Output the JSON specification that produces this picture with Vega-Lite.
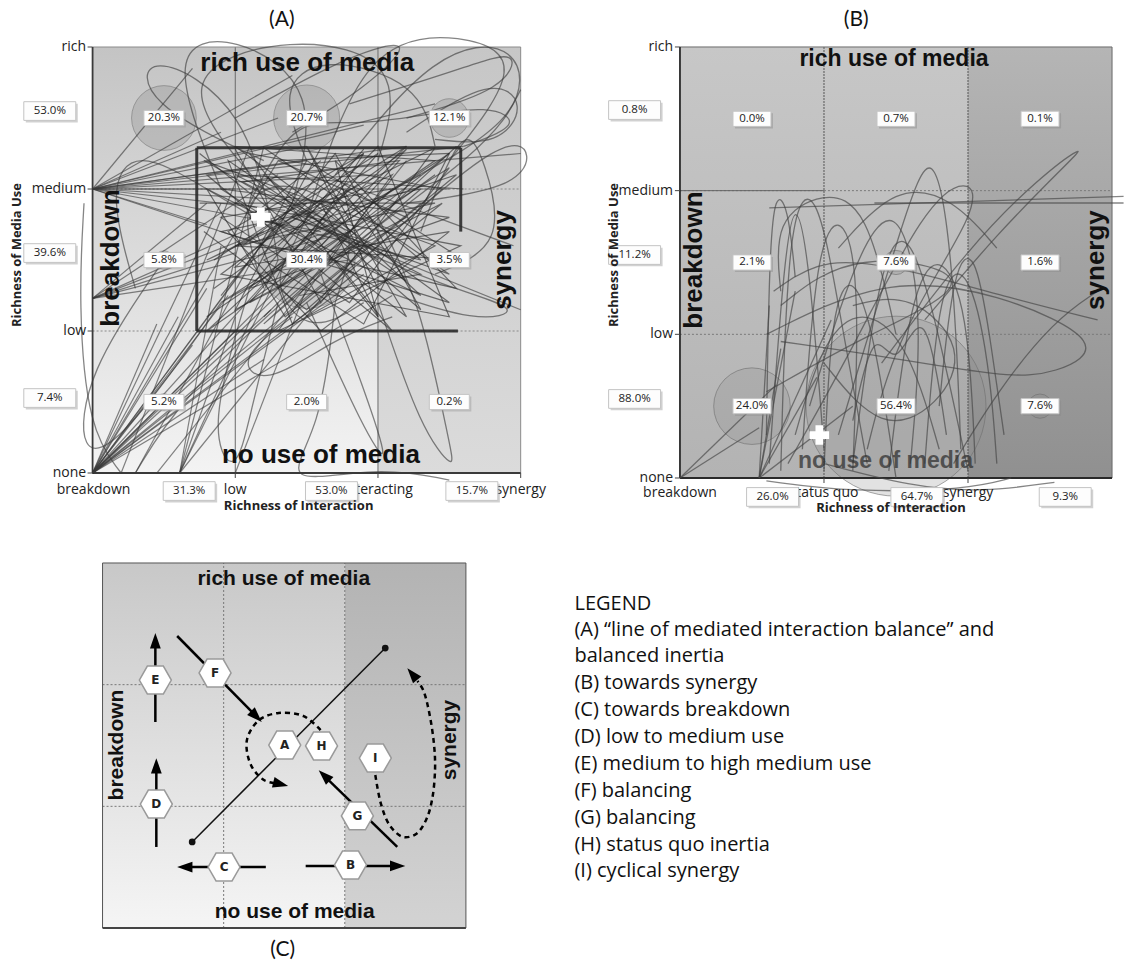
{
"$schema": "https://vega.github.io/schema/vega-lite/v6.json",
"width": 1125, "height": 963, "padding": 0,
"autosize": {"type": "fit", "contains": "padding"},
"background": "white",
"config": {"view": {"stroke": null}, "font": "Open Sans"},
"datasets": {
"pA": [
{"t":"53.0%","x":-0.3,"y":2.549,"k":"s"},{"t":"39.6%","x":-0.3,"y":1.549,"k":"s"},{"t":"7.4%","x":-0.3,"y":0.528,"k":"s"},
{"t":"31.3%","x":0.677,"y":-0.127,"k":"s"},{"t":"53.0%","x":1.674,"y":-0.127,"k":"s"},{"t":"15.7%","x":2.658,"y":-0.127,"k":"s"},
{"t":"20.3%","v":20.3,"x":0.5,"y":2.5,"k":"c"},{"t":"20.7%","v":20.7,"x":1.5,"y":2.5,"k":"c"},{"t":"12.1%","v":12.1,"x":2.5,"y":2.5,"k":"c"},
{"t":"5.8%","v":5.8,"x":0.5,"y":1.5,"k":"c"},{"t":"30.4%","v":30.4,"x":1.5,"y":1.5,"k":"c"},{"t":"3.5%","v":3.5,"x":2.5,"y":1.5,"k":"c"},
{"t":"5.2%","v":5.2,"x":0.5,"y":0.5,"k":"c"},{"t":"2.0%","v":2.0,"x":1.5,"y":0.5,"k":"c"},{"t":"0.2%","v":0.2,"x":2.5,"y":0.5,"k":"c"}
],
"pB": [
{"t":"0.8%","x":-0.315,"y":2.561,"k":"s"},{"t":"11.2%","x":-0.315,"y":1.552,"k":"s"},{"t":"88.0%","x":-0.315,"y":0.55,"k":"s"},
{"t":"26.0%","x":0.643,"y":-0.132,"k":"s"},{"t":"64.7%","x":1.645,"y":-0.132,"k":"s"},{"t":"9.3%","x":2.675,"y":-0.132,"k":"s"},
{"t":"0.0%","v":0.0,"x":0.5,"y":2.5,"k":"c"},{"t":"0.7%","v":0.7,"x":1.5,"y":2.5,"k":"c"},{"t":"0.1%","v":0.1,"x":2.5,"y":2.5,"k":"c"},
{"t":"2.1%","v":2.1,"x":0.5,"y":1.5,"k":"c"},{"t":"7.6%","v":7.6,"x":1.5,"y":1.5,"k":"c"},{"t":"1.6%","v":1.6,"x":2.5,"y":1.5,"k":"c"},
{"t":"24.0%","v":24.0,"x":0.5,"y":0.5,"k":"c"},{"t":"56.4%","v":56.4,"x":1.5,"y":0.5,"k":"c"},{"t":"7.6%","v":7.6,"x":2.5,"y":0.5,"k":"c"}
],
"fanA": [
{"x":0,"y":0,"x2":1.0,"y2":1.0},{"x":0,"y":0,"x2":1.1,"y2":1.5},{"x":0,"y":0,"x2":0.8,"y2":1.3},{"x":0,"y":0,"x2":1.4,"y2":1.9},
{"x":0,"y":0,"x2":1.6,"y2":1.2},{"x":0,"y":0,"x2":2.0,"y2":1.6},{"x":0,"y":0,"x2":0.6,"y2":1.1},{"x":0,"y":0,"x2":1.3,"y2":2.2},
{"x":0,"y":0,"x2":1.8,"y2":2.0},{"x":0,"y":0,"x2":2.3,"y2":1.9},{"x":0,"y":0,"x2":1.2,"y2":0.8},{"x":0,"y":0,"x2":0.9,"y2":1.9},
{"x":0,"y":0,"x2":1.5,"y2":1.45},{"x":0,"y":0,"x2":0.45,"y2":1.05},{"x":0,"y":0,"x2":2.1,"y2":1.25},{"x":0,"y":0,"x2":0.7,"y2":0.9},
{"x":0,"y":0,"x2":1.7,"y2":1.7},{"x":0,"y":0,"x2":1.25,"y2":1.15},{"x":0,"y":0,"x2":0.95,"y2":1.25},{"x":0,"y":0,"x2":1.9,"y2":1.4},
{"x":0.61,"y":0,"x2":1.3,"y2":1.5},{"x":0.61,"y":0,"x2":1.6,"y2":2.0},{"x":0.61,"y":0,"x2":1.0,"y2":1.1},{"x":0.61,"y":0,"x2":1.9,"y2":1.6},
{"x":0.61,"y":0,"x2":1.2,"y2":2.3},{"x":0.61,"y":0,"x2":0.9,"y2":1.6},
{"x":0,"y":2,"x2":1.3,"y2":2.5},{"x":0,"y":2,"x2":1.5,"y2":2.3},{"x":0,"y":2,"x2":1.0,"y2":2.0},{"x":0,"y":2,"x2":1.8,"y2":1.9},
{"x":0,"y":2,"x2":2.2,"y2":2.3},{"x":0,"y":2,"x2":1.2,"y2":1.6},{"x":0,"y":2,"x2":2.6,"y2":2.3},{"x":0,"y":2,"x2":1.6,"y2":1.7},
{"x":0,"y":2,"x2":0.9,"y2":2.4},{"x":0,"y":2,"x2":2.0,"y2":2.1},{"x":0,"y":2,"x2":3.0,"y2":2.25},{"x":0,"y":2,"x2":1.4,"y2":2.8},
{"x":0,"y":2,"x2":0.7,"y2":2.85},{"x":0,"y":2,"x2":2.4,"y2":2.6},{"x":0,"y":2,"x2":1.1,"y2":2.15},{"x":0,"y":2,"x2":0.8,"y2":1.75},
{"x":0,"y":2,"x2":2.5,"y2":2.0},{"x":0,"y":2,"x2":1.9,"y2":2.45},{"x":0,"y":2,"x2":1.35,"y2":1.85},
{"x":0,"y":1.23,"x2":1.2,"y2":1.7},{"x":0,"y":1.23,"x2":1.5,"y2":1.9},{"x":0,"y":1.23,"x2":1.0,"y2":1.55},{"x":0,"y":1.23,"x2":1.8,"y2":1.5},
{"x":0,"y":1.23,"x2":1.3,"y2":2.1},{"x":0,"y":1.23,"x2":0.8,"y2":1.9},{"x":0,"y":1.23,"x2":2.0,"y2":1.75},
{"x":0.3,"y":0,"x2":1.5,"y2":2.2},{"x":0.2,"y":0,"x2":1.1,"y2":2.3},{"x":1.0,"y":0,"x2":1.5,"y2":1.3},{"x":0.45,"y":0,"x2":2.2,"y2":2.2},
{"x":3.0,"y":1.15,"x2":1.4,"y2":1.8},{"x":2.95,"y":1.6,"x2":1.6,"y2":2.1}
],
"zzA": [
{"p":"z1","x":[0.8,2.4,1.0,2.5,0.9,2.3,1.2,2.55],"y":[1.1,2.2,2.3,1.2,1.7,2.0,1.05,2.3]},
{"p":"z2","x":[0.75,2.2,1.5,2.0,0.9,2.5,1.1,1.9],"y":[2.25,1.1,2.3,1.3,2.0,1.8,1.3,2.28]},
{"p":"z3","x":[1.0,1.6,2.4,0.8,2.1,1.3,2.58,1.0],"y":[2.28,1.2,2.29,1.5,2.1,1.0,1.6,1.9]},
{"p":"z4","x":[0.9,1.7,2.3,1.2,2.0,0.78,2.4,1.5],"y":[1.25,2.25,1.15,2.1,1.5,2.2,1.6,1.1]},
{"p":"z5","x":[1.2,2.5,1.4,2.2,0.8,1.8,1.0,2.6],"y":[2.29,1.4,1.8,2.3,1.0,1.7,2.1,2.0]},
{"p":"z6","x":[1.3,2.0,2.5,0.9,1.7,2.3,1.1,1.6],"y":[1.6,2.3,1.1,1.4,2.0,1.5,1.8,2.2]},
{"p":"z7","x":[0.75,2.4,1.0,2.6,1.5,0.8,2.1,1.7],"y":[1.9,1.9,1.6,1.5,2.2,2.1,1.0,1.5]},
{"p":"z8","x":[1.6,1.0,2.2,1.3,2.5,1.9,1.2,2.3],"y":[2.29,1.15,1.8,2.2,2.25,1.05,1.5,2.1]},
{"p":"z9","x":[0.85,2.0,1.1,2.45,1.4,0.95,2.2,1.75],"y":[1.5,2.25,1.2,1.9,1.05,2.2,1.35,2.0]},
{"p":"z10","x":[1.9,1.05,2.55,1.35,0.8,2.3,1.6,2.0],"y":[2.25,1.6,2.1,1.1,2.0,1.25,1.9,1.1]},
{"p":"z11","x":[1.2,2.1,0.9,1.8,2.5,1.4,2.2,0.85],"y":[1.1,2.0,1.8,1.2,2.15,1.45,2.28,1.3]},
{"p":"z12","x":[2.4,1.3,1.9,0.95,1.6,2.5,1.0,1.5],"y":[2.1,1.3,2.25,1.7,1.0,1.7,1.45,1.9]},
{"p":"z13","x":[0.78,1.5,2.45,1.1,2.0,1.7,2.55,1.25],"y":[1.7,1.15,2.0,2.25,1.1,2.2,1.3,1.6]},
{"p":"z14","x":[1.45,2.3,1.05,2.15,1.6,0.9,2.5,1.8],"y":[1.25,1.4,2.05,2.2,1.6,1.2,2.25,1.7]}
],
"lpA": [
{"p":"l1","x":[1.2,0.5,1.4,2.2,2.0],"y":[2.0,2.8,3.1,2.9,2.2]},
{"p":"l2","x":[1.5,1.9,2.6,3.05,2.5],"y":[1.8,3.05,3.1,2.9,2.2]},
{"p":"l3","x":[2.0,2.9,3.1,2.95,2.2],"y":[1.6,2.4,2.25,2.0,1.9]},
{"p":"l4","x":[1.7,2.4,3.0,3.05,2.1],"y":[2.1,3.0,3.05,2.5,2.0]},
{"p":"l5","x":[1.3,1.1,0.35,0.35,1.2],"y":[1.5,2.6,3.0,2.6,2.2]},
{"p":"l6","x":[0.9,0.5,1.0,1.6,1.4],"y":[2.0,3.0,3.1,2.7,1.9]},
{"p":"l7","x":[1.8,2.5,3.05,2.7,2.0],"y":[1.6,1.3,1.15,1.05,1.3]},
{"p":"l8","x":[2.0,2.3,2.5,2.55,2.3,2.0],"y":[1.8,1.2,0.2,0.0,0.3,1.2]},
{"p":"l9","x":[1.6,1.9,2.1,1.9,1.5],"y":[1.4,0.6,0.0,0.3,1.2]},
{"p":"l10","x":[1.3,1.1,1.0,0.8,1.1],"y":[1.2,0.4,-0.05,0.3,1.3]},
{"p":"l11","x":[1.7,1.6,1.3,2.0,2.5],"y":[1.2,0.3,-0.1,0.05,-0.05]},
{"p":"l12","x":[0.5,-0.05,-0.1,0.2,0.9],"y":[1.5,0.7,0.1,0.2,1.2]},
{"p":"l13","x":[2.2,2.8,3.05,2.85,2.4],"y":[2.4,2.8,2.6,2.3,2.35]},
{"p":"l14","x":[1.8,2.6,3.0,2.9,2.2],"y":[2.6,2.85,3.0,2.7,2.5]},
{"p":"l15","x":[1.0,1.8,2.3,1.9,1.4],"y":[2.5,2.95,3.08,2.7,2.4]},
{"p":"l16","x":[2.3,2.6,2.75,2.9,2.4],"y":[1.7,2.5,2.2,1.6,1.4]},
{"p":"l17","x":[1.4,1.0,1.2,1.7,2.1],"y":[1.1,0.8,0.6,0.95,1.1]},
{"p":"l18","x":[0.3,0.1,0.3,0.8,1.3],"y":[1.3,2.0,2.3,2.0,1.7]},
{"p":"l19","x":[1.1,1.4,1.8,2.2,2.8,3.02,2.6],"y":[1.9,2.5,2.45,2.5,2.6,2.45,2.3]},
{"p":"l20","x":[1.5,1.3,1.6,2.3,2.4],"y":[2.2,2.7,2.95,2.75,2.3]},
{"p":"l21","x":[0.3,0.6,1.5,2.8,3.0],"y":[0.0,0.5,1.4,2.3,2.7]},
{"p":"l22","x":[-0.06,-0.1,-0.03,0.2],"y":[1.9,1.2,0.3,0.0]},
{"p":"l23","x":[1.2,1.0,1.35,1.9,1.7],"y":[1.3,1.9,2.1,1.8,1.2]},
{"p":"l24","x":[1.9,1.5,1.2,1.6,2.2],"y":[1.2,0.95,1.4,1.8,1.5]}
],
"boxA": [
{"x":0.73,"y":2.29,"x2":2.58,"y2":2.29},{"x":0.73,"y":1.0,"x2":0.73,"y2":2.29},{"x":0.73,"y":1.0,"x2":2.56,"y2":1.0},{"x":2.58,"y":1.7,"x2":2.58,"y2":2.29}
],
"fanB": [
{"x":0,"y":0,"x2":0.67,"y2":0.65},{"x":0,"y":0,"x2":0.55,"y2":0.35},
{"x":0.55,"y":0,"x2":0.7,"y2":0.9},{"x":0.55,"y":0,"x2":0.95,"y2":0.7},{"x":0.55,"y":0,"x2":1.2,"y2":0.5},
{"x":0.55,"y":0,"x2":0.8,"y2":1.3},{"x":0.55,"y":0,"x2":0.62,"y2":1.2},{"x":0.55,"y":0,"x2":1.05,"y2":1.1},
{"x":1.35,"y":1.914,"x2":3.08,"y2":1.914},{"x":0.62,"y":1.88,"x2":3.08,"y2":1.96}
],
"lpB": [
{"p":"b1","x":[0.62,0.72,0.8,0.9,1.0],"y":[0.1,1.5,2.0,1.5,0.2]},
{"p":"b2","x":[0.7,0.75,0.95,1.1,1.3],"y":[0.05,1.9,2.05,1.2,0.1]},
{"p":"b3","x":[1.1,1.55,1.76,1.9,1.95],"y":[0.3,1.8,2.4,1.5,0.2]},
{"p":"b4","x":[1.2,1.4,1.6,1.8,2.0],"y":[0.1,1.6,1.75,1.0,0.05]},
{"p":"b5","x":[0.9,1.2,1.5,1.7,1.6],"y":[0.5,1.5,2.0,1.2,0.1]},
{"p":"b7","x":[0.6,1.4,2.2,3.0,2.6,2.26,1.4,0.7],"y":[1.0,1.4,1.3,0.93,0.72,0.7,0.85,0.95]},
{"p":"b8","x":[1.4,2.0,2.5,2.83,2.7,2.2,1.7],"y":[0.8,1.6,2.1,2.33,2.2,1.7,1.1]},
{"p":"b9","x":[1.45,1.6,1.8,2.0,2.05],"y":[0.05,1.3,1.6,1.2,0.1]},
{"p":"b10","x":[1.0,1.05,1.2,1.35,1.5],"y":[0.05,1.2,1.45,1.0,0.0]},
{"p":"b11","x":[0.85,0.95,1.15,1.25,1.2],"y":[0.2,1.7,1.85,1.3,0.05]},
{"p":"b12","x":[1.7,1.8,2.0,2.15,2.2],"y":[0.1,1.4,1.5,0.8,0.1]},
{"p":"b13","x":[0.6,1.3,2.2,1.2,0.7],"y":[0.6,1.0,1.4,1.6,1.2]},
{"p":"b14","x":[1.5,1.3,1.0,0.65,0.7],"y":[1.0,1.9,2.0,1.8,1.3]},
{"p":"b17","x":[0.6,0.62,0.66,0.75,0.8],"y":[0.3,1.55,2.0,1.9,1.4]},
{"p":"b18","x":[0.6,1.2,2.0,2.3],"y":[-0.02,-0.1,-0.08,0.0]},
{"p":"b18b","x":[1.0,1.6,2.1,2.6],"y":[0.1,-0.06,-0.1,-0.03]},
{"p":"b19","x":[1.8,1.9,2.05,2.15,2.25],"y":[0.5,1.5,1.6,1.0,0.3]},
{"p":"b20","x":[1.1,1.5,1.9,2.2],"y":[1.6,2.05,1.95,1.6]},
{"p":"b21","x":[1.0,1.4,1.8,2.0,1.6,1.2],"y":[0.8,0.3,0.5,0.9,1.3,1.2]},
{"p":"b22","x":[0.75,1.2,1.7,2.0,2.1,1.5,1.3],"y":[0.1,0.9,1.9,2.1,1.9,1.0,0.2]},
{"p":"b23","x":[0.65,1.0,1.6,2.3,2.9],"y":[1.3,1.55,1.45,1.25,1.1]},
{"p":"b24","x":[1.9,2.2,2.6,2.9],"y":[0.1,0.6,1.1,1.3]},
{"p":"b25","x":[0.8,1.0,1.3,1.6,1.8],"y":[0.3,1.0,1.2,0.9,0.2]},
{"p":"b26","x":[1.2,1.35,1.5,1.7,1.85],"y":[0.4,1.1,0.7,1.3,0.3]}
],
"lg": [
{"t":"LEGEND","x":3.896,"y":2.663},
{"t":"(A) “line of mediated interaction balance” and","x":3.896,"y":2.449},
{"t":"balanced inertia","x":3.896,"y":2.236},
{"t":"(B) towards synergy","x":3.896,"y":2.014},
{"t":"(C) towards breakdown","x":3.896,"y":1.792},
{"t":"(D) low to medium use","x":3.896,"y":1.57},
{"t":"(E) medium to high medium use","x":3.896,"y":1.348},
{"t":"(F) balancing","x":3.896,"y":1.126},
{"t":"(G) balancing","x":3.896,"y":0.904},
{"t":"(H) status quo inertia","x":3.896,"y":0.682},
{"t":"(I) cyclical synergy","x":3.896,"y":0.468}
]
},
"layer": [
{
"encoding": {
"x": {"field":"x","type":"quantitative","scale":{"domain":[-0.6488,7.2],"nice":false,"zero":false},"axis":null},
"y": {"field":"y","type":"quantitative","scale":{"domain":[-3.4507,3.331],"nice":false,"zero":false},"axis":null}
},
"layer": [
{"data":{"values":[{"x":0,"x2":2,"y":0,"y2":3}]},"mark":{"type":"rect","fill":{"gradient":"linear","x1":0,"y1":0,"x2":0,"y2":1,"stops":[{"offset":0,"color":"#c4c4c4"},{"offset":1,"color":"#f3f3f3"}]}},"encoding":{"x2":{"field":"x2"},"y2":{"field":"y2"}}},
{"data":{"values":[{"x":2,"x2":3,"y":0,"y2":3}]},"mark":{"type":"rect","fill":{"gradient":"linear","x1":0,"y1":0,"x2":0,"y2":1,"stops":[{"offset":0,"color":"#c6c6c6"},{"offset":1,"color":"#dbdbdb"}]}},"encoding":{"x2":{"field":"x2"},"y2":{"field":"y2"}}},
{"data":{"name":"pA"},"transform":[{"filter":"datum.k=='c'"}],"mark":{"type":"point","shape":"circle","filled":true,"fill":"#8a8a8a","fillOpacity":0.3,"stroke":"#7a7a7a","strokeOpacity":0.6,"strokeWidth":1,"opacity":1},"encoding":{"size":{"field":"v","type":"quantitative","scale":{"type":"pow","exponent":2,"domain":[0,60],"range":[0,36644]},"legend":null}}},
{"data":{"values":[{"x":1,"y":0,"x2":1,"y2":3},{"x":2,"y":0,"x2":2,"y2":3}]},"mark":{"type":"rule","stroke":"#6a6a6a","strokeWidth":1},"encoding":{"x2":{"field":"x2"},"y2":{"field":"y2"}}},
{"data":{"values":[{"x":0,"y":1,"x2":3,"y2":1},{"x":0,"y":2,"x2":3,"y2":2}]},"mark":{"type":"rule","stroke":"#8a8a8a","strokeWidth":1,"strokeDash":[2,2]},"encoding":{"x2":{"field":"x2"},"y2":{"field":"y2"}}},
{"data":{"values":[{"x":3,"y":0,"x2":3,"y2":3},{"x":0,"y":3,"x2":3,"y2":3}]},"mark":{"type":"rule","stroke":"#8a8a8a","strokeWidth":1},"encoding":{"x2":{"field":"x2"},"y2":{"field":"y2"}}},
{"data":{"values":[{"x":0,"y":0,"x2":0,"y2":3},{"x":0,"y":0,"x2":3,"y2":0}]},"mark":{"type":"rule","stroke":"#3a3a3a","strokeWidth":1.8},"encoding":{"x2":{"field":"x2"},"y2":{"field":"y2"}}},
{"data":{"values":[{"x":-0.035,"y":0,"x2":0,"y2":0},{"x":-0.035,"y":1,"x2":0,"y2":1},{"x":-0.035,"y":2,"x2":0,"y2":2},{"x":-0.035,"y":3,"x2":0,"y2":3},{"x":1,"y":-0.035,"x2":1,"y2":0},{"x":2,"y":-0.035,"x2":2,"y2":0},{"x":3,"y":-0.035,"x2":3,"y2":0}]},"mark":{"type":"rule","stroke":"#444","strokeWidth":1},"encoding":{"x2":{"field":"x2"},"y2":{"field":"y2"}}},
{"data":{"name":"fanA"},"mark":{"type":"rule","stroke":"#3a3a3a","strokeWidth":1.2,"opacity":0.62},"encoding":{"x2":{"field":"x2"},"y2":{"field":"y2"}}},
{"data":{"name":"zzA"},"transform":[{"flatten":["x","y"]}],"mark":{"type":"line","stroke":"#262626","strokeWidth":1.2,"opacity":0.62},"encoding":{"detail":{"field":"p"},"order":{"value":null}}},
{"data":{"name":"lpA"},"transform":[{"flatten":["x","y"]}],"mark":{"type":"line","interpolate":"basis","stroke":"#3a3a3a","strokeWidth":1.3,"opacity":0.62},"encoding":{"detail":{"field":"p"},"order":{"value":null}}},
{"data":{"name":"boxA"},"mark":{"type":"rule","stroke":"#2a2a2a","strokeWidth":3,"opacity":0.9},"encoding":{"x2":{"field":"x2"},"y2":{"field":"y2"}}},
{"data":{"values":[{"t":"rich use of media","x":1.504,"y":2.887},{"t":"no use of media","x":1.6,"y":0.127}]},"mark":{"type":"text","font":"Liberation Sans","fontWeight":"bold","fontSize":26,"align":"center","baseline":"middle","color":"#111"},"encoding":{"text":{"field":"t"}}},
{"data":{"values":[{"t":"breakdown","x":0.126,"y":1.514},{"t":"synergy","x":2.875,"y":1.5}]},"mark":{"type":"text","font":"Liberation Sans","fontWeight":"bold","fontSize":26,"align":"center","baseline":"middle","angle":270,"color":"#111"},"encoding":{"text":{"field":"t"}}},
{"data":{"values":[{"t":"rich","x":-0.045,"y":3},{"t":"medium","x":-0.045,"y":2},{"t":"low","x":-0.045,"y":1},{"t":"none","x":-0.045,"y":0}]},"mark":{"type":"text","fontSize":14,"align":"right","baseline":"middle","color":"#222"},"encoding":{"text":{"field":"t"}}},
{"data":{"values":[{"t":"breakdown","x":0.007,"y":-0.12},{"t":"low","x":1,"y":-0.12},{"t":"interacting","x":2,"y":-0.12},{"t":"synergy","x":3,"y":-0.12}]},"mark":{"type":"text","fontSize":14,"align":"center","baseline":"middle","color":"#222"},"encoding":{"text":{"field":"t"}}},
{"data":{"name":"pA"},"transform":[{"filter":"datum.k=='s'"}],"mark":{"type":"point","shape":"M -1 -0.36 L 1 -0.36 L 1 0.36 L -1 0.36 Z","filled":true,"fill":"#9a9a9a","opacity":0.45,"size":2700,"xOffset":2,"yOffset":2}},
{"data":{"name":"pA"},"transform":[{"filter":"datum.k=='s'"}],"mark":{"type":"point","shape":"M -1 -0.36 L 1 -0.36 L 1 0.36 L -1 0.36 Z","filled":true,"fill":"#fdfdfd","stroke":"#c4c4c4","strokeWidth":1,"opacity":1,"size":2700}},
{"data":{"name":"pA"},"transform":[{"filter":"datum.k=='c'"}],"mark":{"type":"point","shape":"M -1 -0.38 L 1 -0.38 L 1 0.38 L -1 0.38 Z","filled":true,"fill":"#9a9a9a","opacity":0.45,"size":1600,"xOffset":2,"yOffset":2}},
{"data":{"name":"pA"},"transform":[{"filter":"datum.k=='c'"}],"mark":{"type":"point","shape":"M -1 -0.38 L 1 -0.38 L 1 0.38 L -1 0.38 Z","filled":true,"fill":"#fdfdfd","stroke":"#c4c4c4","strokeWidth":1,"opacity":1,"size":1600}},
{"data":{"name":"pA"},"mark":{"type":"text","fontSize":11.5,"align":"center","baseline":"middle","color":"#222"},"encoding":{"text":{"field":"t"}}},
{"data":{"values":[{"x":1.179,"y":1.803}]},"mark":{"type":"point","shape":"cross","filled":true,"fill":"white","opacity":1,"size":380}},
{"data":{"values":[{"t":"(A)","x":1.326,"y":3.19}]},"mark":{"type":"text","font":"Lato","fontSize":21,"align":"center","baseline":"middle","color":"#111"},"encoding":{"text":{"field":"t"}}},
{"data":{"values":[{"t":"Richness of Media Use","x":-0.53,"y":1.535}]},"mark":{"type":"text","fontSize":13,"fontWeight":"bold","align":"center","baseline":"middle","angle":270,"color":"#222"},"encoding":{"text":{"field":"t"}}},
{"data":{"values":[{"t":"Richness of Interaction","x":1.444,"y":-0.235}]},"mark":{"type":"text","fontSize":13,"fontWeight":"bold","align":"center","baseline":"middle","color":"#222"},"encoding":{"text":{"field":"t"}}}
]
},
{
"encoding": {
"x": {"field":"x","type":"quantitative","scale":{"domain":[-4.7212,3.0553],"nice":false,"zero":false},"axis":null},
"y": {"field":"y","type":"quantitative","scale":{"domain":[-3.3759,3.327],"nice":false,"zero":false},"axis":null}
},
"layer": [
{"data":{"values":[{"x":0,"x2":2,"y":0,"y2":3}]},"mark":{"type":"rect","fill":{"gradient":"linear","x1":0,"y1":0,"x2":0,"y2":1,"stops":[{"offset":0,"color":"#c7c7c7"},{"offset":1,"color":"#b3b3b3"}]}},"encoding":{"x2":{"field":"x2"},"y2":{"field":"y2"}}},
{"data":{"values":[{"x":2,"x2":3,"y":0,"y2":3}]},"mark":{"type":"rect","fill":{"gradient":"linear","x1":0,"y1":0,"x2":0,"y2":1,"stops":[{"offset":0,"color":"#b5b5b5"},{"offset":1,"color":"#909090"}]}},"encoding":{"x2":{"field":"x2"},"y2":{"field":"y2"}}},
{"data":{"name":"pB"},"transform":[{"filter":"datum.k=='c'"}],"mark":{"type":"point","shape":"circle","filled":true,"fill":"#8a8a8a","fillOpacity":0.25,"stroke":"#6e6e6e","strokeOpacity":0.6,"strokeWidth":1,"opacity":1},"encoding":{"size":{"field":"v","type":"quantitative","scale":{"type":"pow","exponent":2,"domain":[0,60],"range":[0,36644]},"legend":null}}},
{"data":{"values":[{"x":1,"y":0,"x2":1,"y2":3},{"x":2,"y":0,"x2":2,"y2":3}]},"mark":{"type":"rule","stroke":"#555","strokeWidth":1,"strokeDash":[2,1]},"encoding":{"x2":{"field":"x2"},"y2":{"field":"y2"}}},
{"data":{"values":[{"x":0,"y":1,"x2":3,"y2":1},{"x":0,"y":2,"x2":3,"y2":2}]},"mark":{"type":"rule","stroke":"#7a7a7a","strokeWidth":1,"strokeDash":[2,2]},"encoding":{"x2":{"field":"x2"},"y2":{"field":"y2"}}},
{"data":{"values":[{"x":0,"y":2,"x2":1,"y2":2}]},"mark":{"type":"rule","stroke":"#666","strokeWidth":1},"encoding":{"x2":{"field":"x2"},"y2":{"field":"y2"}}},
{"data":{"values":[{"x":3,"y":0,"x2":3,"y2":3},{"x":0,"y":3,"x2":3,"y2":3}]},"mark":{"type":"rule","stroke":"#6a6a6a","strokeWidth":1},"encoding":{"x2":{"field":"x2"},"y2":{"field":"y2"}}},
{"data":{"values":[{"x":0,"y":0,"x2":0,"y2":3},{"x":0,"y":0,"x2":3,"y2":0}]},"mark":{"type":"rule","stroke":"#2a2a2a","strokeWidth":1.8},"encoding":{"x2":{"field":"x2"},"y2":{"field":"y2"}}},
{"data":{"values":[{"x":-0.035,"y":0,"x2":0,"y2":0},{"x":-0.035,"y":1,"x2":0,"y2":1},{"x":-0.035,"y":2,"x2":0,"y2":2},{"x":-0.035,"y":3,"x2":0,"y2":3},{"x":1,"y":-0.035,"x2":1,"y2":0},{"x":2,"y":-0.035,"x2":2,"y2":0}]},"mark":{"type":"rule","stroke":"#444","strokeWidth":1},"encoding":{"x2":{"field":"x2"},"y2":{"field":"y2"}}},
{"data":{"name":"fanB"},"mark":{"type":"rule","stroke":"#444","strokeWidth":1.3,"opacity":0.65},"encoding":{"x2":{"field":"x2"},"y2":{"field":"y2"}}},
{"data":{"name":"lpB"},"transform":[{"flatten":["x","y"]}],"mark":{"type":"line","interpolate":"basis","stroke":"#444","strokeWidth":1.3,"opacity":0.65},"encoding":{"detail":{"field":"p"},"order":{"value":null}}},
{"data":{"values":[{"t":"rich use of media","x":1.486,"y":2.916}]},"mark":{"type":"text","font":"Liberation Sans","fontWeight":"bold","fontSize":23,"align":"center","baseline":"middle","color":"#111"},"encoding":{"text":{"field":"t"}}},
{"data":{"values":[{"t":"no use of media","x":1.427,"y":0.118}]},"mark":{"type":"text","font":"Liberation Sans","fontWeight":"bold","fontSize":23,"align":"center","baseline":"middle","color":"#333","opacity":0.75},"encoding":{"text":{"field":"t"}}},
{"data":{"values":[{"t":"breakdown","x":0.1,"y":1.517},{"t":"synergy","x":2.89,"y":1.517}]},"mark":{"type":"text","font":"Liberation Sans","fontWeight":"bold","fontSize":26,"align":"center","baseline":"middle","angle":270,"color":"#111"},"encoding":{"text":{"field":"t"}}},
{"data":{"values":[{"t":"rich","x":-0.048,"y":3},{"t":"medium","x":-0.048,"y":2},{"t":"low","x":-0.048,"y":1},{"t":"none","x":-0.048,"y":0}]},"mark":{"type":"text","fontSize":14,"align":"right","baseline":"middle","color":"#222"},"encoding":{"text":{"field":"t"}}},
{"data":{"values":[{"t":"breakdown","x":0,"y":-0.104},{"t":"status quo","x":1,"y":-0.104},{"t":"synergy","x":2,"y":-0.104}]},"mark":{"type":"text","fontSize":14,"align":"center","baseline":"middle","color":"#222"},"encoding":{"text":{"field":"t"}}},
{"data":{"name":"pB"},"transform":[{"filter":"datum.k=='s'"}],"mark":{"type":"point","shape":"M -1 -0.36 L 1 -0.36 L 1 0.36 L -1 0.36 Z","filled":true,"fill":"#9a9a9a","opacity":0.45,"size":2700,"xOffset":2,"yOffset":2}},
{"data":{"name":"pB"},"transform":[{"filter":"datum.k=='s'"}],"mark":{"type":"point","shape":"M -1 -0.36 L 1 -0.36 L 1 0.36 L -1 0.36 Z","filled":true,"fill":"#fdfdfd","stroke":"#c4c4c4","strokeWidth":1,"opacity":1,"size":2700}},
{"data":{"name":"pB"},"transform":[{"filter":"datum.k=='c'"}],"mark":{"type":"point","shape":"M -1 -0.4 L 1 -0.4 L 1 0.4 L -1 0.4 Z","filled":true,"fill":"#8a8a8a","opacity":0.45,"size":1444,"xOffset":2,"yOffset":2}},
{"data":{"name":"pB"},"transform":[{"filter":"datum.k=='c'"}],"mark":{"type":"point","shape":"M -1 -0.4 L 1 -0.4 L 1 0.4 L -1 0.4 Z","filled":true,"fill":"#fdfdfd","stroke":"#c4c4c4","strokeWidth":1,"opacity":1,"size":1444}},
{"data":{"name":"pB"},"mark":{"type":"text","fontSize":11.5,"align":"center","baseline":"middle","color":"#222"},"encoding":{"text":{"field":"t"}}},
{"data":{"values":[{"x":0.968,"y":0.299}]},"mark":{"type":"point","shape":"cross","filled":true,"fill":"white","opacity":1,"size":380}},
{"data":{"values":[{"t":"(B)","x":1.2235,"y":3.188}]},"mark":{"type":"text","font":"Lato","fontSize":21,"align":"center","baseline":"middle","color":"#111"},"encoding":{"text":{"field":"t"}}},
{"data":{"values":[{"t":"Richness of Media Use","x":-0.456,"y":1.552}]},"mark":{"type":"text","fontSize":13,"fontWeight":"bold","align":"center","baseline":"middle","angle":270,"color":"#222"},"encoding":{"text":{"field":"t"}}},
{"data":{"values":[{"t":"Richness of Interaction","x":1.465,"y":-0.21}]},"mark":{"type":"text","fontSize":13,"fontWeight":"bold","align":"center","baseline":"middle","color":"#222"},"encoding":{"text":{"field":"t"}}}
]
},
{
"encoding": {
"x": {"field":"x","type":"quantitative","scale":{"domain":[-0.8466,8.4],"nice":false,"zero":false},"axis":null},
"y": {"field":"y","type":"quantitative","scale":{"domain":[-0.2877,7.6274],"nice":false,"zero":false},"axis":null}
},
"layer": [
{"data":{"values":[{"x":0,"x2":2,"y":0,"y2":3}]},"mark":{"type":"rect","fill":{"gradient":"linear","x1":0,"y1":0,"x2":0,"y2":1,"stops":[{"offset":0,"color":"#c8c8c8"},{"offset":1,"color":"#f5f5f5"}]}},"encoding":{"x2":{"field":"x2"},"y2":{"field":"y2"}}},
{"data":{"values":[{"x":2,"x2":3,"y":0,"y2":3}]},"mark":{"type":"rect","fill":{"gradient":"linear","x1":0,"y1":0,"x2":0,"y2":1,"stops":[{"offset":0,"color":"#b3b3b3"},{"offset":1,"color":"#d3d3d3"}]}},"encoding":{"x2":{"field":"x2"},"y2":{"field":"y2"}}},
{"data":{"values":[{"x":1,"y":0,"x2":1,"y2":3},{"x":2,"y":0,"x2":2,"y2":3},{"x":0,"y":1,"x2":3,"y2":1},{"x":0,"y":2,"x2":3,"y2":2}]},"mark":{"type":"rule","stroke":"#777","strokeWidth":1,"strokeDash":[2,2]},"encoding":{"x2":{"field":"x2"},"y2":{"field":"y2"}}},
{"data":{"values":[{"x":0,"y":0,"x2":0,"y2":3},{"x":0,"y":3,"x2":3,"y2":3},{"x":3,"y":0,"x2":3,"y2":3}]},"mark":{"type":"rule","stroke":"#555","strokeWidth":1},"encoding":{"x2":{"field":"x2"},"y2":{"field":"y2"}}},
{"data":{"values":[{"x":0,"y":0,"x2":3,"y2":0}]},"mark":{"type":"rule","stroke":"#444","strokeWidth":2},"encoding":{"x2":{"field":"x2"},"y2":{"field":"y2"}}},
{"data":{"values":[{"t":"rich use of media","x":1.496,"y":2.868},{"t":"no use of media","x":1.586,"y":0.131}]},"mark":{"type":"text","font":"Liberation Sans","fontWeight":"bold","fontSize":21,"align":"center","baseline":"middle","color":"#111"},"encoding":{"text":{"field":"t"}}},
{"data":{"values":[{"t":"breakdown","x":0.123,"y":1.504},{"t":"synergy","x":2.868,"y":1.545}]},"mark":{"type":"text","font":"Liberation Sans","fontWeight":"bold","fontSize":21,"align":"center","baseline":"middle","angle":270,"color":"#111"},"encoding":{"text":{"field":"t"}}},
{"data":{"values":[{"x":0.74,"y":0.707,"x2":2.334,"y2":2.301}]},"mark":{"type":"rule","stroke":"#111","strokeWidth":1.5},"encoding":{"x2":{"field":"x2"},"y2":{"field":"y2"}}},
{"data":{"values":[{"x":0.74,"y":0.707},{"x":2.334,"y":2.301}]},"mark":{"type":"point","shape":"circle","filled":true,"fill":"#111","opacity":1,"size":45}},
{"data":{"values":[{"x":0.436,"y":1.693,"x2":0.436,"y2":2.36},{"x":0.444,"y":0.666,"x2":0.444,"y2":1.33},{"x":0.616,"y":2.4,"x2":1.27,"y2":1.74},{"x":2.433,"y":0.666,"x2":1.83,"y2":1.25},{"x":1.348,"y":0.501,"x2":0.68,"y2":0.501},{"x":1.677,"y":0.51,"x2":2.43,"y2":0.51}]},"mark":{"type":"rule","stroke":"#000","strokeWidth":2.5},"encoding":{"x2":{"field":"x2"},"y2":{"field":"y2"}}},
{"data":{"values":[
{"p":"a","x":[1.8,1.66,1.455,1.293,1.192,1.225,1.332,1.42],"y":[1.627,1.742,1.767,1.71,1.545,1.34,1.216,1.19]},
{"p":"i","x":[2.252,2.301,2.375,2.482,2.589,2.671,2.72,2.745,2.737,2.696,2.647,2.6],"y":[1.257,1.011,0.838,0.748,0.773,0.888,1.052,1.299,1.504,1.775,1.956,2.03]}
]},"transform":[{"flatten":["x","y"]}],"mark":{"type":"line","interpolate":"catmull-rom","stroke":"#000","strokeWidth":2.5,"strokeDash":[5,4]},"encoding":{"detail":{"field":"p"},"order":{"value":null}}},
{"data":{"values":[{"x":0.436,"y":2.35,"a":0},{"x":0.444,"y":1.322,"a":0},{"x":1.262,"y":1.746,"a":135},{"x":1.838,"y":1.245,"a":314},{"x":0.69,"y":0.501,"a":270},{"x":2.425,"y":0.51,"a":90},{"x":1.46,"y":1.185,"a":104},{"x":2.564,"y":2.079,"a":320}]},"mark":{"type":"point","shape":"M 0 -1 L 0.6 0.7 L -0.6 0.7 Z","filled":true,"fill":"#000","opacity":1,"size":324},"encoding":{"angle":{"field":"a","type":"quantitative","scale":null}}},
{"data":{"values":[{"t":"E","x":0.436,"y":2.038},{"t":"F","x":0.929,"y":2.096},{"t":"A","x":1.504,"y":1.504},{"t":"H","x":1.808,"y":1.496},{"t":"D","x":0.444,"y":1.019},{"t":"I","x":2.252,"y":1.397},{"t":"G","x":2.104,"y":0.921},{"t":"C","x":1.003,"y":0.501},{"t":"B","x":2.047,"y":0.518}]},"mark":{"type":"point","shape":"M -1 0 L -0.5 -0.87 L 0.5 -0.87 L 1 0 L 0.5 0.87 L -0.5 0.87 Z","filled":true,"fill":"white","stroke":"#9a9a9a","strokeWidth":1.5,"opacity":1,"size":1024}},
{"data":{"values":[{"t":"E","x":0.436,"y":2.038},{"t":"F","x":0.929,"y":2.096},{"t":"A","x":1.504,"y":1.504},{"t":"H","x":1.808,"y":1.496},{"t":"D","x":0.444,"y":1.019},{"t":"I","x":2.252,"y":1.397},{"t":"G","x":2.104,"y":0.921},{"t":"C","x":1.003,"y":0.501},{"t":"B","x":2.047,"y":0.518}]},"mark":{"type":"text","font":"DejaVu Sans","fontWeight":"bold","fontSize":12,"align":"center","baseline":"middle","color":"#222"},"encoding":{"text":{"field":"t"}}},
{"data":{"values":[{"t":"(C)","x":1.488,"y":-0.181}]},"mark":{"type":"text","font":"Lato","fontSize":21,"align":"center","baseline":"middle","color":"#111"},"encoding":{"text":{"field":"t"}}},
{"data":{"name":"lg"},"mark":{"type":"text","font":"Open Sans","fontSize":20,"align":"left","baseline":"middle","color":"#111"},"encoding":{"text":{"field":"t"}}}
]
}
],
"resolve": {"scale": {"x": "independent", "y": "independent", "size": "independent"}}
}
